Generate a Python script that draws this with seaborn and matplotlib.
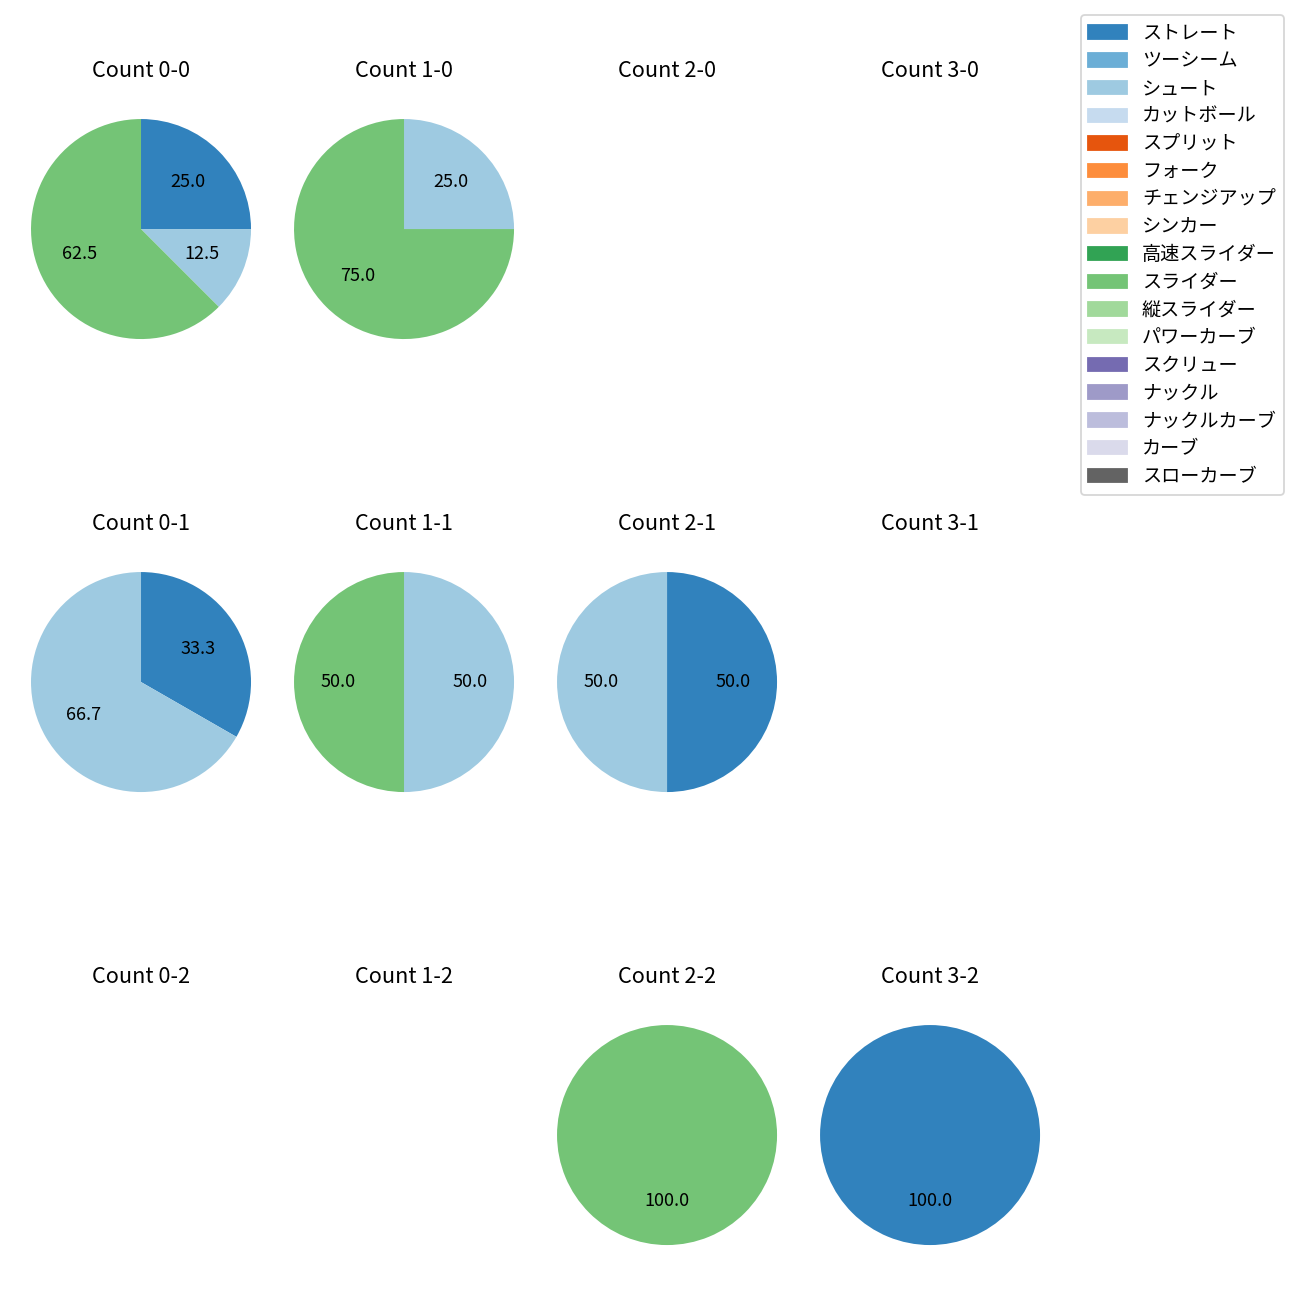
import matplotlib
matplotlib.use("Agg")
import matplotlib.pyplot as plt
import matplotlib.patches as mpatches
import seaborn as sns

plt.rcParams['font.family'] = ['Noto Sans CJK JP', 'DejaVu Sans']

pitch_types = ['ストレート', 'ツーシーム', 'シュート', 'カットボール', 'スプリット', 'フォーク',
               'チェンジアップ', 'シンカー', '高速スライダー', 'スライダー', '縦スライダー',
               'パワーカーブ', 'スクリュー', 'ナックル', 'ナックルカーブ', 'カーブ', 'スローカーブ']
colors = sns.color_palette('tab20c', 17)

# share of pitches per count, keyed by (balls, strikes)
count_0_0 = {'ストレート': 25.0, 'シュート': 12.5, 'スライダー': 62.5}
count_1_0 = {'シュート': 25.0, 'スライダー': 75.0}
count_0_1 = {'ストレート': 33.3, 'シュート': 66.7}
count_1_1 = {'シュート': 50.0, 'スライダー': 50.0}
count_2_1 = {'ストレート': 50.0, 'シュート': 50.0}
count_2_2 = {'スライダー': 100.0}
count_3_2 = {'ストレート': 100.0}

data = {
    (0, 0): count_0_0, (1, 0): count_1_0,
    (0, 1): count_0_1, (1, 1): count_1_1, (2, 1): count_2_1,
    (2, 2): count_2_2, (3, 2): count_3_2,
}

fig, axes = plt.subplots(3, 4, figsize=(10, 10))
fig.subplots_adjust(left=0.0027, right=0.8212, bottom=0.0115, top=0.9392,
                    wspace=-0.0436, hspace=0.51)

for strikes in range(3):
    for balls in range(4):
        ax = axes[strikes, balls]
        ax.set_title(f'Count {balls}-{strikes}', pad=8.2)
        d = data.get((balls, strikes))
        if d:
            keys = [p for p in pitch_types if p in d]
            vals = [d[k] for k in keys]
            cols = [colors[pitch_types.index(k)] for k in keys]
            ax.pie(vals, colors=cols, autopct='%.1f', startangle=90,
                   counterclock=False, wedgeprops={'linewidth': 0})
        ax.set(xlim=(-1.25, 1.25), ylim=(-1.25, 1.25))
        ax.set_aspect('equal')
        ax.axis('off')

handles = [mpatches.Patch(color=colors[i], label=p) for i, p in enumerate(pitch_types)]
fig.legend(handles=handles, loc='upper right', bbox_to_anchor=(0.9947, 0.9957),
           fontsize=10.6, labelspacing=0.35)

plt.savefig('out.png', dpi=130)
